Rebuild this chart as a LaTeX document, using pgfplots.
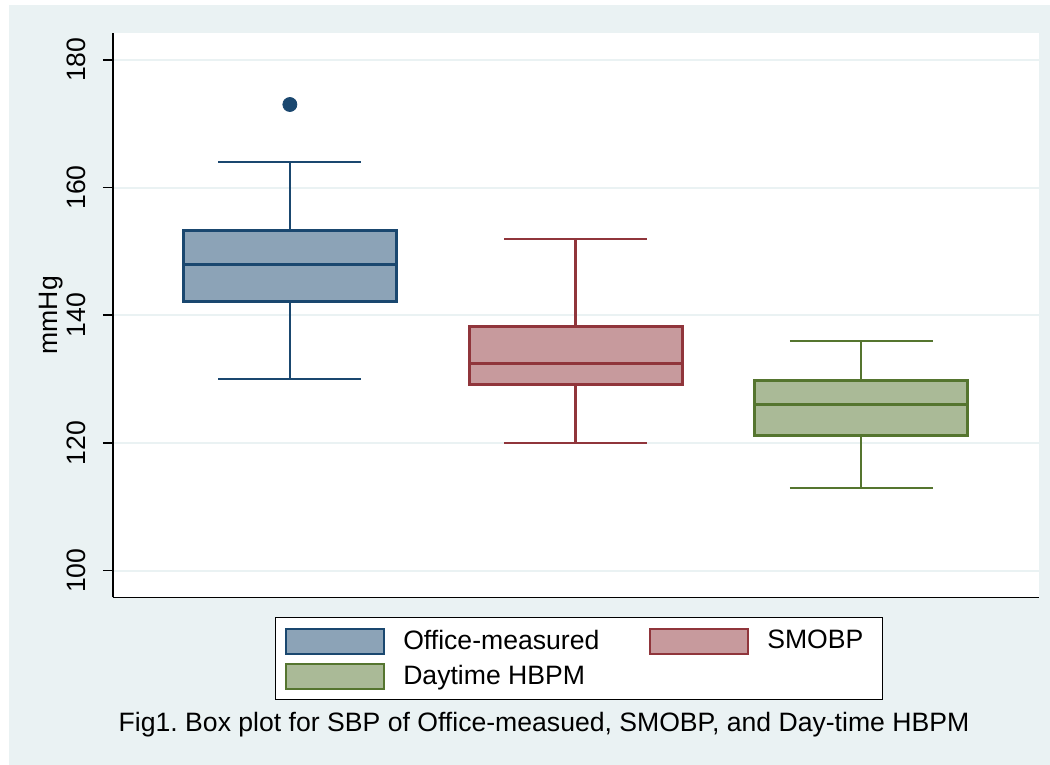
\documentclass[border=0pt]{standalone}
\usepackage{fontspec}
\setmainfont{Liberation Sans}
\usepackage{pgfplots}
\pgfplotsset{compat=1.18}
\usepgfplotslibrary{statistics}
\definecolor{bgC}{RGB}{234,242,243}
\definecolor{navyS}{RGB}{26,71,111}
\definecolor{maroonS}{RGB}{144,53,59}
\definecolor{greenS}{RGB}{85,117,47}
\colorlet{navyF}{navyS!50!white}
\colorlet{maroonF}{maroonS!50!white}
\colorlet{greenF}{greenS!50!white}
\newcommand{\fsz}{\fontsize{13.3}{15}\selectfont}
\frenchspacing
\begin{document}
\begin{tikzpicture}
\fill[white] (0,0) rectangle (525pt,382.5pt);
\fill[bgC] (4.5pt,0) rectangle (525pt,380pt);
\begin{axis}[
  at={(56.5pt,83.75pt)}, anchor=south west,
  width=463pt, height=282.25pt, scale only axis,
  xmin=0.381, xmax=3.622, ymin=95.8, ymax=184.2,
  axis x line*=bottom, axis y line*=left,
  axis line style={-, black, line width=0.8pt},
  xtick=\empty, ytick={100,120,140,160,180},
  ymajorgrids, grid style={bgC, line width=1pt},
  axis background/.style={fill=white},
  tick align=outside, major tick length=5pt,
  tick style={black, line width=0.8pt},
  /pgf/number format/assume math mode=true,
  yticklabel style={rotate=90, anchor=base, inner sep=0pt, font=\fsz},
  yticklabel shift=8.5pt,
  ylabel={mmHg},
  ylabel style={at={(axis description cs:-0.0594,0.5)}, anchor=base, inner sep=0pt, font=\fsz},
  legend columns=2,
  legend style={at={(0.503,0)}, anchor=north, yshift=-9.75pt, draw=black, line width=0.6pt,
    fill=white, inner xsep=5pt, inner ysep=5pt, row sep=4pt, column sep=9pt,
    nodes={inner sep=0pt}, font=\fsz},
  boxplot/draw direction=y,
  boxplot/every box/.style={line width=1.5pt},
  boxplot/every whisker/.style={line width=1.1pt, fill=none},
  boxplot/every median/.style={line width=1.5pt},
]
\addplot[boxplot prepared={lower whisker=130, lower quartile=142.2, median=148,
    upper quartile=153.3, upper whisker=164, draw position=1, box extend=0.745, whisker extend=0.5},
  draw=navyS, fill=navyF, mark=*, mark size=3.5pt, mark options={fill=navyS, draw=navyS},
  legend image code/.code={\draw[draw=navyS, fill=navyF, line width=1pt] (0pt,-6.25pt) rectangle (49pt,6.25pt);}]
  table[row sep=\\, y index=0] {data\\ 173\\};
\addlegendentry{\makebox[114pt][l]{Office-measured}}
\addplot[boxplot prepared={lower whisker=120, lower quartile=129.2, median=132.4,
    upper quartile=138.3, upper whisker=152, draw position=2, box extend=0.745, whisker extend=0.5},
  draw=maroonS, fill=maroonF,
  legend image code/.code={\draw[draw=maroonS, fill=maroonF, line width=1pt] (0pt,-6.25pt) rectangle (49pt,6.25pt);}]
  coordinates {};
\addlegendentry{\makebox[52.5pt][l]{SMOBP}}
\addplot[boxplot prepared={lower whisker=113, lower quartile=121.2, median=126,
    upper quartile=129.8, upper whisker=136, draw position=3, box extend=0.745, whisker extend=0.5},
  draw=greenS, fill=greenF,
  legend image code/.code={\draw[draw=greenS, fill=greenF, line width=1pt] (0pt,-6.25pt) rectangle (49pt,6.25pt);}]
  coordinates {};
\addlegendentry{\makebox[114pt][l]{Daytime HBPM}}
\end{axis}
\node[anchor=base, font=\fsz, inner sep=0pt] at (272pt,16.5pt) {Fig1. Box plot for SBP of Office-measued, SMOBP, and Day-time HBPM};
\pgfresetboundingbox
\path[use as bounding box] (0,0) rectangle (525pt,382.5pt);
\end{tikzpicture}
\end{document}
